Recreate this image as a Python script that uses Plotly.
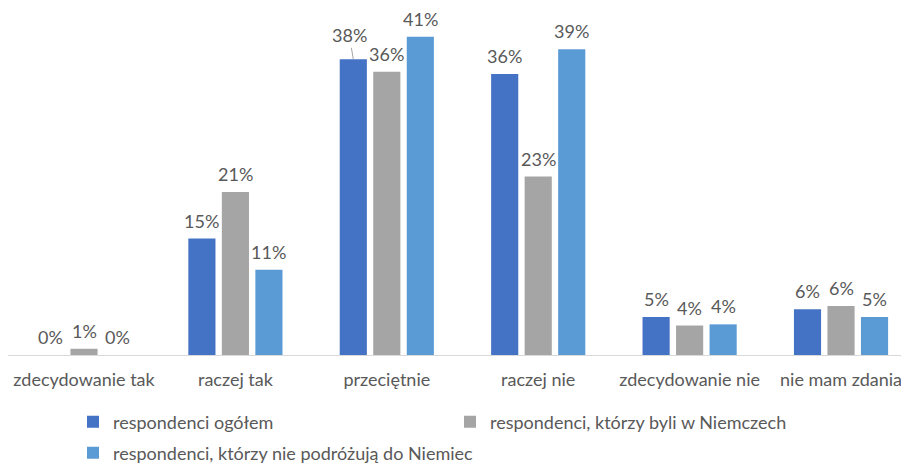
import plotly.graph_objects as go

categories = ["zdecydowanie tak", "raczej tak", "przeciętnie", "raczej nie", "zdecydowanie nie", "nie mam zdania"]
series_names = ["respondenci ogółem", "respondenci, którzy byli w Niemczech", "respondenci, którzy nie podróżują do Niemiec"]
ogolem = [0.0, 15.0, 38.1, 36.2, 4.9, 5.9]
byli = [0.8, 21.0, 36.5, 23.0, 3.8, 6.3]
nie_podrozuja = [0.0, 11.0, 41.0, 39.4, 3.95, 4.9]
labels_ogolem = ["0%", "15%", "38%", "36%", "5%", "6%"]
labels_byli = ["1%", "21%", "36%", "23%", "4%", "6%"]
labels_nie = ["0%", "11%", "41%", "39%", "4%", "5%"]

colors = ["#4472C4", "#A5A5A5", "#5B9BD5"]
txt_color = "#595959"
font_family = "Lato, 'Open Sans', sans-serif"
FS = 18
bar_pitch = 33.5  # pixel distance between bars within a group

W, H = 909, 466  # page body adds an 8px offset; layout below accounts for it

fig = go.Figure()
series = [ogolem, byli, nie_podrozuja]
labels = [labels_ogolem, labels_byli, labels_nie]
legends = ["legend", "legend2", "legend3"]
for i in range(3):
    fig.add_trace(go.Bar(
        x=categories, y=series[i], name=series_names[i],
        marker=dict(color=colors[i], line=dict(width=0)),
        legend=legends[i],
    ))
    for j, cat in enumerate(categories):
        if i == 0 and j == 2:
            fig.add_annotation(
                x=cat, y=series[i][j], xref="x", yref="y",
                text=labels[i][j], showarrow=True, arrowhead=0, arrowwidth=1,
                arrowcolor="#A5A5A5", xshift=(i - 1) * bar_pitch, ax=-4, ay=-24,
                standoff=0, font=dict(size=FS, color=txt_color, family=font_family),
            )
        else:
            fig.add_annotation(
                x=cat, y=series[i][j], xref="x", yref="y",
                text=labels[i][j], showarrow=False, yanchor="bottom",
                xshift=(i - 1) * bar_pitch, yshift=5,
                font=dict(size=FS, color=txt_color, family=font_family),
            )

leg_font = dict(size=FS, color=txt_color, family=font_family)
fig.update_layout(
    width=W, height=H,
    margin=dict(l=0, r=8, t=2, b=119, autoexpand=False),
    paper_bgcolor="white", plot_bgcolor="white",
    barmode="group", bargap=0.336, bargroupgap=0.19,
    font=dict(family=font_family, color=txt_color, size=FS),
    xaxis=dict(showline=True, linecolor="#D9D9D9", linewidth=1, automargin=False,
               ticks="outside", ticklen=8, tickcolor="rgba(0,0,0,0)",
               range=[-0.502, 5.449],
               tickfont=dict(size=FS, color=txt_color, family=font_family)),
    yaxis=dict(visible=False, range=[0, 44.46], automargin=False),
    showlegend=True,
    legend=dict(orientation="h", xref="container", yref="container",
                x=65 / W, y=1 - 414 / H, xanchor="left", yanchor="middle",
                font=leg_font, itemwidth=30),
    legend2=dict(orientation="h", xref="container", yref="container",
                 x=442 / W, y=1 - 414 / H, xanchor="left", yanchor="middle",
                 font=leg_font, itemwidth=30),
    legend3=dict(orientation="h", xref="container", yref="container",
                 x=65 / W, y=1 - 445 / H, xanchor="left", yanchor="middle",
                 font=leg_font, itemwidth=30),
)

fig.write_html("out.html")
